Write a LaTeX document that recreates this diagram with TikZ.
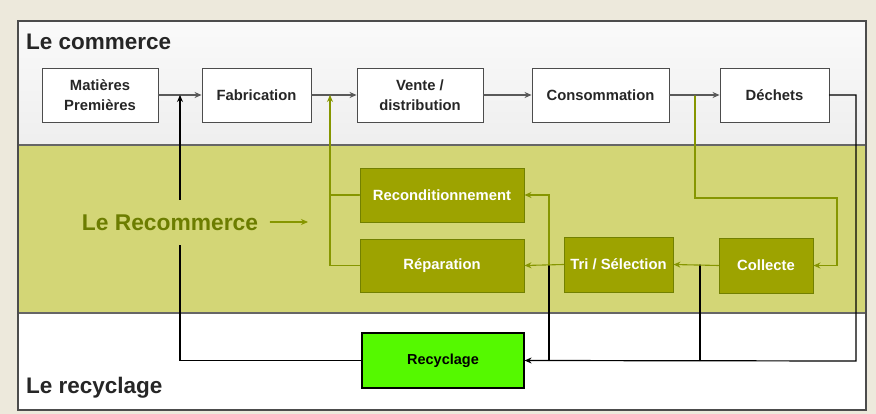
\documentclass[tikz,border=0pt]{standalone}
\usepackage{fontspec}
\setmainfont{Liberation Sans}
\usetikzlibrary{arrows.meta}

\definecolor{paper}{HTML}{EDE9DC}
\definecolor{bandolive}{HTML}{D3D676}
\definecolor{boxolive}{HTML}{9DA300}
\definecolor{lineolive}{HTML}{869600}
\definecolor{textolive}{HTML}{6C7D00}
\definecolor{recgreen}{HTML}{55F900}

\tikzset{
  combox/.style={draw=black!70,fill=white,line width=0.9pt,inner sep=0pt,align=center,
    text=black!85,font=\bfseries\fontsize{14.8}{19.5}\selectfont},
  recbox/.style={draw=lineolive!85!black,fill=boxolive,line width=0.9pt,inner sep=0pt,
    text=white,font=\bfseries\fontsize{14.8}{16.5}\selectfont},
  gline/.style={draw=black!65,line width=1.1pt,->},
  oline/.style={draw=lineolive,line width=1.1pt},
  bline/.style={draw=black,line width=1.2pt},
  title/.style={anchor=west,inner sep=0pt,text=black!85,font=\bfseries\fontsize{22.5}{26}\selectfont}
}

\begin{document}
\begin{tikzpicture}[x=1pt,y=-1pt,>={Stealth[length=7pt,width=6pt]},line cap=round]
% fond et bandes
\fill[paper] (0,0) rectangle (876,414);
\shade[top color=gray!4,bottom color=gray!13] (18,21) rectangle (866,145);
\fill[bandolive] (18,145) rectangle (866,313);
\fill[white] (18,313) rectangle (866,410);
\draw[black!60,line width=1.5pt] (18,145) -- (866,145) (18,313) -- (866,313);
\draw[black!70,line width=1.2pt] (18,21) rectangle (866,410);

\node[title] (tcom) at (26,42) {Le commerce};
\node[title] (trec) at (26,388) {Le recyclage};

% le commerce
\node[combox,minimum width=116,minimum height=54] (mat) at (100,95) {Matières\\Premières};
\node[combox,minimum width=109,minimum height=54] (fab) at (256.5,95) {Fabrication};
\node[combox,minimum width=126,minimum height=54] (vente) at (420,95) {Vente /\\distribution};
\node[combox,minimum width=137,minimum height=54] (conso) at (600.5,95) {Consommation};
\node[combox,minimum width=109,minimum height=54] (dech) at (774.5,95) {Déchets};

\draw[gline] (mat) -- (fab);
\draw[gline] (fab) -- (vente);
\draw[gline] (vente) -- (conso);
\draw[gline] (conso) -- (dech);

% le recommerce
\node[recbox,minimum width=164,minimum height=54] (recond) at (442,195) {Reconditionnement};
\node[recbox,minimum width=164,minimum height=53] (repar) at (442,265.5) {Réparation};
\node[recbox,minimum width=109,minimum height=55] (tri) at (618.5,264.5) {Tri / Sélection};
\node[recbox,minimum width=94,minimum height=55] (coll) at (766,265.5) {Collecte};
\node[draw=black,fill=recgreen,line width=1.2pt,inner sep=0pt,minimum width=162,minimum height=55,
  font=\bfseries\fontsize{14.5}{16}\selectfont] (recy) at (443,360.5) {Recyclage};

\coordinate (jfab) at (180,95);
\coordinate (jvente) at (330,95);
\coordinate (jdech) at (695,96);
\coordinate (jcoll) at (837,198);
\coordinate (jtri) at (549,265);
\coordinate (jsel) at (700,265);
\coordinate (jout) at (856,361);

% recyclage (noir)
\draw[bline,->] (recy.west) -| (jfab);
\draw[bline] (jtri) -- (jtri |- recy.east);
\draw[bline] (jsel) -- (jsel |- recy.east);
\draw[bline,->] (dech.east) -| (jout) -- (recy.east);

\node[fill=bandolive,inner xsep=2pt,inner ysep=0pt,minimum height=45,text=textolive,
  font=\bfseries\fontsize{22.8}{26}\selectfont] (lerecom) at (170,223) {Le Recommerce};
\coordinate (jrecom) at (308,222);
\draw[oline,->] ([xshift=10pt,yshift=1pt]lerecom.east) -- (jrecom);

% boucles du recommerce
\draw[oline,->] (repar.west) -| (jvente);
\draw[oline] (recond.west) -- (recond.west -| jvente);
\draw[oline,->] (jdech) |- (jcoll) |- (coll.east);
\draw[oline,->] (coll.west) -- (tri.east);
\draw[oline,->] (tri.west) -- (repar.east);
\draw[oline,->] (jtri) |- (recond.east);
\end{tikzpicture}
\end{document}
